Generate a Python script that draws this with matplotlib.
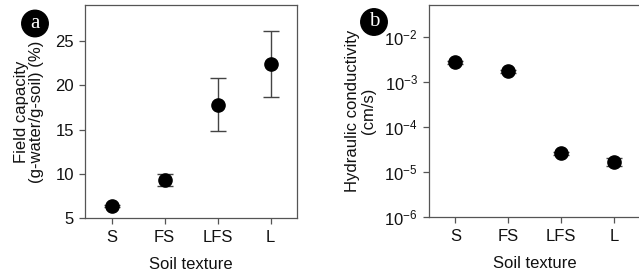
import numpy as np
import matplotlib
matplotlib.use("Agg")
import matplotlib.pyplot as plt

plt.rcParams['font.family'] = ['Liberation Sans', 'DejaVu Sans']
plt.rcParams['mathtext.fontset'] = 'custom'
plt.rcParams['mathtext.rm'] = 'Liberation Sans'
plt.rcParams['mathtext.default'] = 'regular'

categories = ["S", "FS", "LFS", "L"]
fc_mean = [6.35, 9.3, 17.8, 22.45]
fc_low = [6.2, 8.65, 14.8, 18.65]
fc_high = [6.5, 9.95, 20.85, 26.2]

hc_mean = [2.8e-3, 1.75e-3, 2.65e-5, 1.72e-5]
hc_low = [2.6e-3, 1.6e-3, 2.45e-5, 1.40e-5]
hc_high = [3.0e-3, 1.9e-3, 2.85e-5, 2.08e-5]
hc_ticks = [1e-6, 1e-5, 1e-4, 1e-3, 1e-2]
hc_ticklabels = ["$10^{-6}$", "$10^{-5}$", "$10^{-4}$", "$10^{-3}$", "$10^{-2}$"]
fc_ticks = [5, 10, 15, 20, 25]

W, H = 639, 277
fig = plt.figure(figsize=(W/100, H/100), dpi=100)
axa = fig.add_axes([85/W, 1-218/H, (297-85)/W, 213/H])
axb = fig.add_axes([429/W, 1-217/H, (640.5-429)/W, 212/H])

x = np.arange(len(categories))
spine_c = '#555555'
fs = 12

def style(ax):
    for s in ax.spines.values():
        s.set_color(spine_c)
        s.set_linewidth(0.9)
    ax.tick_params(axis='both', colors=spine_c, labelcolor='#111111', labelsize=fs,
                   length=4.5, width=0.9, direction='out')
    ax.tick_params(axis='x', pad=4)
    ax.set_xticks(x)
    ax.set_xticklabels(categories)
    ax.set_xlim(-0.5, 3.5)
    ax.set_xlabel("Soil texture", fontsize=fs, labelpad=9, color='#111111')

m = np.array(fc_mean)
axa.errorbar(x, m, yerr=[m - np.array(fc_low), np.array(fc_high) - m], fmt='o',
             color='black', ms=9.5, ecolor='#444444', elinewidth=1, capsize=6, capthick=1)
axa.set_ylim(5, 29.1)
axa.set_yticks(fc_ticks)
style(axa)
axa.set_ylabel("Field capacity\n(g-water/g-soil) (%)", fontsize=fs, labelpad=8,
               linespacing=1.05, color='#111111')

h = np.array(hc_mean)
axb.errorbar(x, h, yerr=[h - np.array(hc_low), np.array(hc_high) - h], fmt='o',
             color='black', ms=9.5, ecolor='#444444', elinewidth=1, capsize=6, capthick=1)
axb.set_yscale('log')
axb.set_ylim(1e-6, 10**-1.28)
axb.set_yticks(hc_ticks)
axb.set_yticklabels(hc_ticklabels)
axb.yaxis.set_minor_locator(matplotlib.ticker.NullLocator())
style(axb)
axb.set_ylabel("Hydraulic conductivity\n(cm/s)", fontsize=fs, labelpad=6,
               linespacing=1.05, color='#111111')

for lbl, cx, cy in [("a", 35, 23.5), ("b", 374, 22)]:
    fig.text(cx/W, 1-cy/H, lbl, ha='center', va='center', color='white',
             fontsize=15, family='Liberation Serif',
             bbox=dict(boxstyle='circle,pad=0.18', fc='black', ec='black'))

fig.savefig("out.png", dpi=100)
